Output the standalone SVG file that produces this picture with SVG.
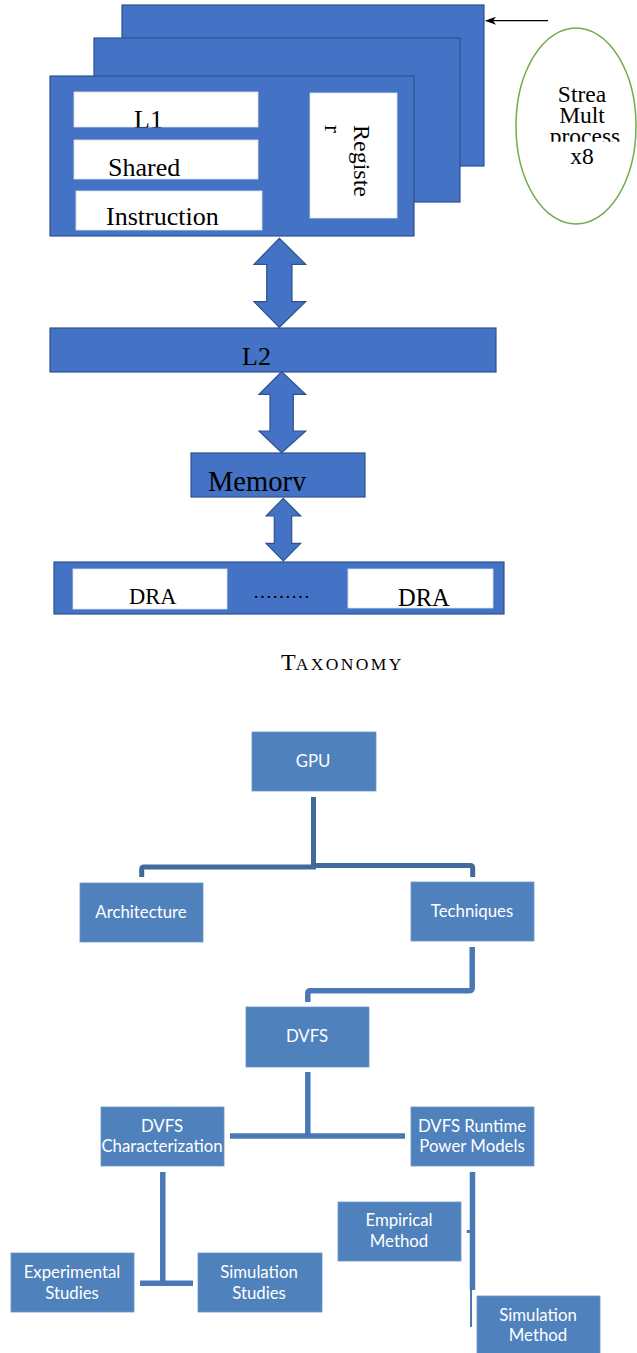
<svg xmlns="http://www.w3.org/2000/svg" width="637" height="1353" viewBox="0 0 637 1353">
<style>
.blk{fill:#4472C4;stroke:#2F528F;stroke-width:1.2}
.wb{fill:#FFFFFF;stroke:#D6E0F2;stroke-width:0.8}
.serif{font-family:"Liberation Serif","Times New Roman",serif;fill:#000}
.box{fill:#4F81BD;stroke:#6C95C9;stroke-width:0.8}
.lbl{font-family:Lato,"Open Sans",sans-serif;font-size:16.8px;fill:#FFFFFF;text-anchor:middle}
.c1{fill:none;stroke:#41699B;stroke-width:5}
.c2{fill:none;stroke:#4A78B4;stroke-width:5.5}
</style>
<defs>
<marker id="ah" markerWidth="11" markerHeight="8" refX="10" refY="4" orient="auto" markerUnits="userSpaceOnUse">
<path d="M0,0 L11,4 L0,8 L3,4 Z" fill="#000"/>
</marker>
<clipPath id="clipProc"><rect x="500" y="0" width="137" height="141.7"/></clipPath>
<clipPath id="clipMem"><rect x="190" y="453" width="175" height="38"/></clipPath>
<clipPath id="clipL1"><rect x="74" y="91" width="184" height="36.5"/></clipPath>
</defs>

<!-- Streaming multiprocessor stack -->
<g id="sm-back"><rect class="blk" x="122" y="5" width="362" height="161"/></g>
<g id="sm-mid"><rect class="blk" x="94" y="38" width="366" height="164"/></g>
<g id="sm-front">
<rect class="blk" x="50" y="76" width="364" height="160"/>
</g>
<g id="l1">
<rect class="wb" x="74" y="92" width="184" height="35"/>
<text class="serif" x="134" y="128" font-size="26" clip-path="url(#clipL1)">L1</text>
</g>
<g id="shared">
<rect class="wb" x="74" y="140" width="184" height="39"/>
<text class="serif" x="108" y="176" font-size="26">Shared</text>
</g>
<g id="instruction">
<rect class="wb" x="76" y="191" width="186" height="39"/>
<text class="serif" x="106" y="225" font-size="26">Instruction</text>
</g>
<g id="register">
<rect class="wb" x="310" y="93" width="87" height="125"/>
<text class="serif" font-size="24" transform="translate(354,125) rotate(90)">Registe</text>
<text class="serif" font-size="24" transform="translate(325,125) rotate(90)">r</text>
</g>
<g id="sm-label">
<ellipse cx="576" cy="126" rx="60" ry="98" fill="#FFFFFF" stroke="#70AD47" stroke-width="1.5"/>
<text class="serif" x="582" y="102" font-size="23.5" text-anchor="middle">Strea</text>
<text class="serif" x="582" y="123" font-size="23.5" text-anchor="middle">Mult</text>
<text class="serif" x="585" y="144" font-size="23.5" text-anchor="middle" clip-path="url(#clipProc)">process</text>
<text class="serif" x="582" y="164" font-size="23.5" text-anchor="middle">x8</text>
</g>

<g id="l2">
<rect class="blk" x="50" y="328" width="446" height="44"/>
<text class="serif" x="242" y="365" font-size="26">L2</text>
</g>
<g id="memory">
<rect class="blk" x="191" y="453" width="174" height="44"/>
<text class="serif" x="208" y="491" font-size="28.5" clip-path="url(#clipMem)">Memory</text>
</g>
<g id="dram">
<rect class="blk" x="54" y="562" width="450" height="52"/>
<rect class="wb" x="73" y="569" width="154" height="40"/>
<rect class="wb" x="348" y="569" width="145" height="39"/>
<text class="serif" x="129" y="604" font-size="22.5">DRA</text>
<text class="serif" x="398" y="606" font-size="24.5">DRA</text>
<text class="serif" x="253" y="598" font-size="19">………</text>
</g>

<!-- connectors (top section) -->
<g id="connectors-top">
<line x1="548" y1="20.7" x2="486" y2="20.7" stroke="#000" stroke-width="1.2" marker-end="url(#ah)"/>
<path class="blk" d="M279.3,238.3 L305.7,264.3 L292,264.3 L292,301.7 L305.7,301.7 L279.3,327.3 L254,301.7 L266.7,301.7 L266.7,264.3 L254,264.3 Z"/>
<path class="blk" d="M281.7,371.7 L305.7,394.3 L293.3,394.3 L293.3,431 L305.7,431 L281.7,452.7 L259,431 L270,431 L270,394.3 L259,394.3 Z"/>
<path class="blk" d="M283.3,498.3 L300.7,516 L291.7,516 L291.7,543.3 L300.7,543.3 L283.3,561 L266,543.3 L274.3,543.3 L274.3,516 L266,516 Z"/>
</g>

<g id="caption">
<text class="serif" x="281" y="670" font-size="24">T<tspan font-size="17.5" letter-spacing="2.4">AXONOMY</tspan></text>
</g>

<!-- taxonomy tree -->
<g id="gpu"><rect class="box" x="252" y="732" width="124" height="59"/><text class="lbl" x="313" y="767">GPU</text></g>
<g id="architecture"><rect class="box" x="80" y="883" width="123" height="59"/><text class="lbl" x="141" y="918">Architecture</text></g>
<g id="techniques"><rect class="box" x="411" y="882" width="123" height="59"/><text class="lbl" x="472" y="917">Techniques</text></g>
<g id="dvfs"><rect class="box" x="246" y="1007" width="123" height="60"/><text class="lbl" x="307" y="1042">DVFS</text></g>
<g id="dvfs-char"><rect class="box" x="101" y="1107" width="123" height="59"/><text class="lbl" x="162" y="1132">DVFS</text><text class="lbl" x="162" y="1152">Characterization</text></g>
<g id="dvfs-runtime"><rect class="box" x="411" y="1107" width="123" height="59"/><text class="lbl" x="472" y="1132">DVFS Runtime</text><text class="lbl" x="472" y="1152">Power Models</text></g>
<g id="experimental"><rect class="box" x="11" y="1253" width="123" height="59"/><text class="lbl" x="72" y="1278">Experimental</text><text class="lbl" x="72" y="1299">Studies</text></g>
<g id="sim-studies"><rect class="box" x="198" y="1253" width="124" height="59"/><text class="lbl" x="259" y="1278">Simulation</text><text class="lbl" x="259" y="1299">Studies</text></g>
<g id="empirical"><rect class="box" x="338" y="1202" width="123" height="59"/><text class="lbl" x="399" y="1226">Empirical</text><text class="lbl" x="399" y="1247">Method</text></g>
<g id="sim-method"><rect class="box" x="477" y="1296" width="123" height="58"/><text class="lbl" x="538" y="1321">Simulation</text><text class="lbl" x="538" y="1341">Method</text></g>

<g id="connectors-tree">
<path class="c1" d="M313.5,797 L313.5,867 L144,867 Q141.7,867 141.7,869.5 L141.7,877"/>
<path class="c1" d="M313.5,865.5 L470,865.5 Q472.7,865.5 472.7,868 L472.7,877"/>
<path class="c2" d="M472.2,947 L472.2,988 Q472.2,990.7 469.5,990.7 L310.5,990.7 Q307.8,990.7 307.8,993.4 L307.8,1002"/>
<path class="c2" d="M307.8,1072 L307.8,1136 M230,1136 L405,1136"/>
<path class="c2" d="M162.8,1172 L162.8,1283.3 M140,1283.3 L193,1283.3"/>
<path class="c2" d="M472.5,1172 L472.5,1290"/>
<path d="M466.7,1231.5 L472,1231.5" stroke="#4A78B4" stroke-width="3" fill="none"/>
<path d="M471,1290 L471,1327" stroke="#4A78B4" stroke-width="2" fill="none"/>
</g>
</svg>
